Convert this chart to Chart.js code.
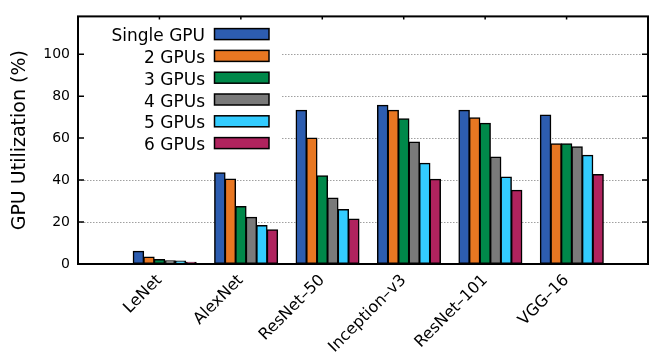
<!DOCTYPE html>
<html>
<head>
<meta charset="utf-8">
<script src="https://cdn.jsdelivr.net/npm/chart.js@4.4.1/dist/chart.umd.min.js"></script>
<style>
  html, body { margin: 0; padding: 0; background: #fff; }
  canvas { display: block; }
</style>
</head>
<body>
<canvas id="chart" width="662" height="352"></canvas>
<script>
// models on the x axis
const models = ['LeNet', 'AlexNet', 'ResNet–50', 'Inception–v3', 'ResNet–101', 'VGG–16'];
const seriesNames = ['Single GPU', '2 GPUs', '3 GPUs', '4 GPUs', '5 GPUs', '6 GPUs'];

// GPU utilization (%) per model
const singleGpu = [6.1, 43.5, 73.3, 75.6, 73.3, 71.0];
const twoGpus   = [3.3, 40.5, 60.1, 73.3, 69.7, 57.3];
const threeGpus = [2.2, 27.4, 42.0, 69.2, 67.1, 57.3];
const fourGpus  = [1.6, 22.3, 31.4, 58.2, 51.0, 55.9];
const fiveGpus  = [1.4, 18.4, 26.0, 48.0, 41.5, 51.8];
const sixGpus   = [0.8, 16.3, 21.5, 40.4, 35.1, 42.7];

const yTicks = [0, 20, 40, 60, 80, 100];

const colors = ['#2d5db0', '#e87722', '#00884a', '#7a7a7a', '#33ccff', '#b0235e'];
const FONT = 'DejaVu Sans';

const allSeries = [singleGpu, twoGpus, threeGpus, fourGpus, fiveGpus, sixGpus];

// empty slot at each end of the axis, like the gnuplot range
const labels = [''].concat(models, ['']);
const pad = arr => [null].concat(arr, [null]);

const barOpts = { categoryPercentage: 0.903, barPercentage: 1.0, inflateAmount: 0.5 };

const datasets = [Object.assign({
  // empty spacer slot at the front of every cluster
  label: '',
  data: labels.map(() => null),
  backgroundColor: 'transparent'
}, barOpts)];
allSeries.forEach((vals, i) => {
  datasets.push(Object.assign({
    label: seriesNames[i],
    data: pad(vals),
    backgroundColor: colors[i],
    borderColor: '#000',
    borderWidth: 1.5,
    borderSkipped: false
  }, barOpts));
});

const gnuplotLook = {
  id: 'gnuplotLook',
  afterDatasetsDraw(chart) {
    const { ctx, chartArea: a, scales } = chart;
    const x = scales.x, y = scales.y;
    ctx.save();

    // key box, covers the grid
    ctx.fillStyle = '#fff';
    ctx.fillRect(a.left + 1, a.top + 1, 280 - a.left, 146 - a.top);

    ctx.font = '17px "' + FONT + '"';
    ctx.textAlign = 'right';
    ctx.textBaseline = 'alphabetic';
    for (let i = 0; i < seriesNames.length; i++) {
      const cy = a.top + 17.7 + i * 21.8;
      ctx.fillStyle = '#000';
      ctx.fillText(seriesNames[i], 205, cy + 7);
      ctx.fillStyle = colors[i];
      ctx.fillRect(214.5, cy - 5.5, 54.5, 11);
      ctx.lineWidth = 1.5;
      ctx.strokeStyle = '#000';
      ctx.strokeRect(214.5, cy - 5.5, 54.5, 11);
    }

    // inward tics
    ctx.strokeStyle = '#000';
    ctx.lineWidth = 1.5;
    ctx.beginPath();
    yTicks.forEach(v => {
      const py = y.getPixelForValue(v);
      ctx.moveTo(a.left, py); ctx.lineTo(a.left + 6, py);
      ctx.moveTo(a.right, py); ctx.lineTo(a.right - 6, py);
    });
    models.forEach((m, i) => {
      const px = x.getPixelForValue(i + 1);
      ctx.moveTo(px, a.top); ctx.lineTo(px, a.top + 3);
    });
    ctx.stroke();

    // border
    ctx.lineWidth = 2;
    ctx.strokeRect(a.left, a.top, a.right - a.left, a.bottom - a.top);
    ctx.restore();
  }
};

new Chart(document.getElementById('chart'), {
  type: 'bar',
  data: { labels: labels, datasets: datasets },
  options: {
    responsive: false,
    animation: false,
    devicePixelRatio: 1,
    layout: { padding: { top: 4, right: 14, left: 0, bottom: 0 } },
    plugins: {
      legend: { display: false },
      tooltip: { enabled: false }
    },
    scales: {
      x: {
        type: 'category',
        offset: false,
        grid: { display: false },
        border: { display: false },
        ticks: {
          autoSkip: false,
          minRotation: 45,
          maxRotation: 45,
          padding: -1,
          color: '#000',
          font: { family: FONT, size: 16 }
        },
        afterFit: s => { s.height = 88; }
      },
      y: {
        min: 0,
        max: 118,
        afterBuildTicks: s => { s.ticks = yTicks.map(v => ({ value: v })); },
        grid: {
          drawTicks: false,
          color: c => (c.tick && c.tick.value === 0) ? 'rgba(0,0,0,0)' : '#a0a0a0',
          lineWidth: 1
        },
        border: { display: false, dash: [1.5, 1.5] },
        ticks: {
          padding: 8,
          color: '#000',
          font: { family: FONT, size: 14 }
        },
        title: {
          display: true,
          text: 'GPU Utilization (%)',
          color: '#000',
          font: { family: FONT, size: 19 },
          padding: { top: 9, bottom: 0 }
        },
        afterFit: s => { s.width = 78; }
      }
    }
  },
  plugins: [gnuplotLook]
});
</script>
</body>
</html>
